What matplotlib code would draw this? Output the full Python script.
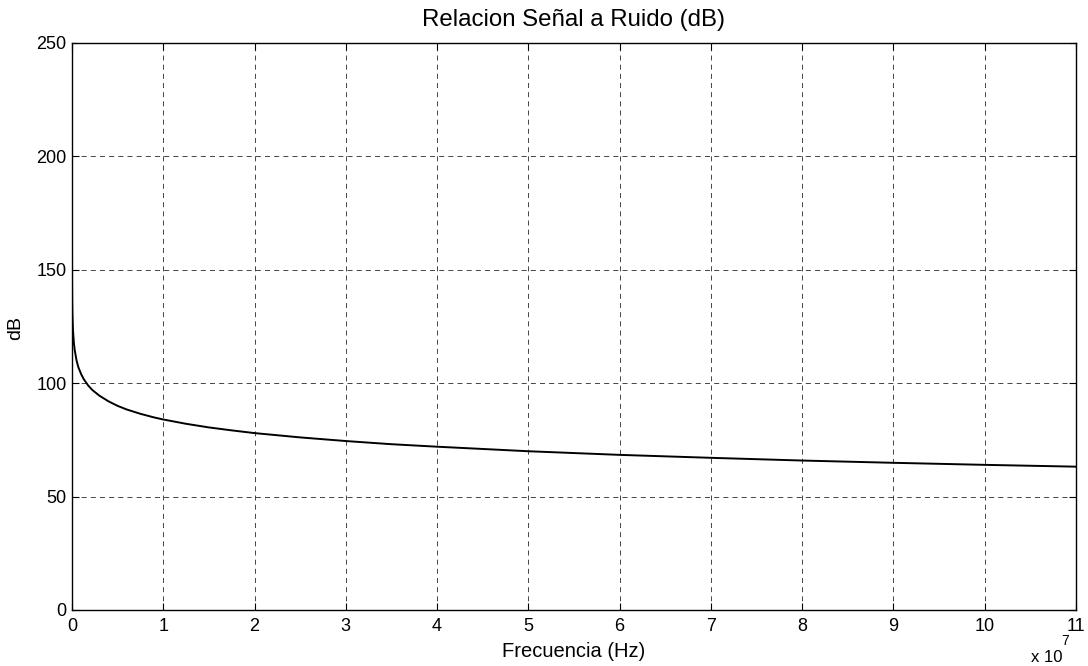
import matplotlib
matplotlib.use("Agg")
import matplotlib.pyplot as plt
from matplotlib.ticker import FuncFormatter

plt.rcParams['font.family'] = ['Liberation Sans', 'DejaVu Sans']

# Signal-to-noise ratio versus frequency
freq_hz = [1.0, 10.0, 100.0, 1e3, 1e4, 3e4, 5e4, 1e5, 2e5, 3e5, 5e5, 7e5,
           1e6, 1.3e6, 1.75e6, 2.2e6, 3e6, 4e6, 5e6, 6e6, 7.5e6, 9e6,
           1e7, 1.25e7, 1.5e7, 1.75e7, 2e7, 2.5e7, 3e7, 3.5e7, 4e7, 5e7,
           6e7, 7e7, 8e7, 9e7, 1e8, 1.1e8]
snr_db = [250, 224, 204, 164, 144, 134.5, 130, 124, 118, 114.5, 110, 107,
          104, 101.7, 99.1, 97.1, 94.5, 92, 90, 88.4, 86.5, 84.9,
          84, 82.1, 80.5, 79.2, 78, 76.1, 74.5, 73.1, 72, 70,
          68.4, 67.1, 65.9, 64.9, 64, 63.2]

x_ticks = list(range(0, 12))
y_ticks = [0, 50, 100, 150, 200, 250]

W, H = 1088, 666
fig = plt.figure(figsize=(W / 100, H / 100), dpi=100)
ax = fig.add_axes([72 / W, 56 / H, 1004 / W, 567 / H])

ax.plot(freq_hz, snr_db, color='black', linewidth=1.4)

ax.set_xlim(0, 1.1e8)
ax.set_ylim(0, 250)
ax.set_xticks([t * 1e7 for t in x_ticks])
ax.xaxis.set_major_formatter(FuncFormatter(lambda v, p: f"{v / 1e7:.0f}"))
ax.set_yticks(y_ticks)

ax.grid(True, linestyle=(0, (6, 5)), color='black', linewidth=0.6, alpha=0.85)
ax.tick_params(direction='in', length=5, width=0.8, labelsize=13,
               top=True, right=True)
ax.tick_params(axis='x', pad=6)
ax.tick_params(axis='y', pad=4)
for s in ax.spines.values():
    s.set_linewidth(1.0)

ax.set_title('Relacion Señal a Ruido (dB)', fontsize=17.3, pad=12)
ax.set_xlabel('Frecuencia (Hz)', fontsize=14.5)
ax.xaxis.set_label_coords(0.5, (610 - 642) / 567)
ax.set_ylabel('dB', fontsize=14)
ax.yaxis.set_label_coords((24 - 72) / 1004, 0.497)

# scale factor of the frequency axis
fig.text(1031 / W, 1 - 662 / H, 'x 10', fontsize=12,
         ha='left', va='baseline')
fig.text(1061 / W, 1 - 645 / H, '7', fontsize=10,
         ha='left', va='baseline')

fig.savefig('out.png', dpi=100)
